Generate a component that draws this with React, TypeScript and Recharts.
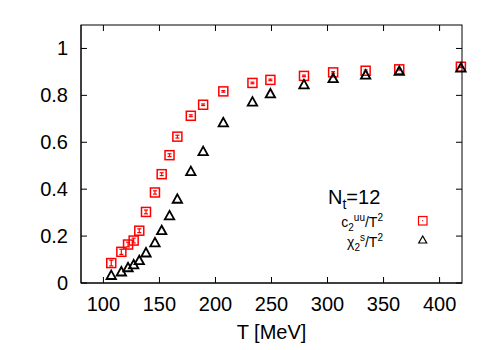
import { ScatterChart, Scatter, XAxis, YAxis } from "recharts";

// temperatures in MeV (shared by both series)
const temps = [107, 116, 122, 127, 132, 138, 146, 152, 159, 166, 178, 189, 207, 233, 249, 279, 305, 334, 364, 419];
const c2uu = [0.085, 0.133, 0.164, 0.181, 0.223, 0.303, 0.386, 0.464, 0.545, 0.624, 0.713, 0.76, 0.817, 0.853, 0.866, 0.883, 0.898, 0.905, 0.911, 0.922];
const c2uuErr = [0.012, 0.011, 0.01, 0.01, 0.008, 0.008, 0.007, 0.006, 0.006, 0.006, 0.004, 0.003, 0.003, 0.002, 0.002, 0.002, 0.002, 0.002, 0.002, 0.002];
const chi2s = [0.032, 0.047, 0.065, 0.077, 0.095, 0.128, 0.171, 0.223, 0.286, 0.357, 0.475, 0.56, 0.683, 0.771, 0.806, 0.845, 0.871, 0.886, 0.902, 0.916];
const xTicks = [100, 150, 200, 250, 300, 350, 400];
const yTicks = [0, 0.2, 0.4, 0.6, 0.8, 1];

const X_MIN = 80;
const X_MAX = 420;
const Y_MAX = 1.1;

// layout
const W = 500;
const H = 350;
const M_TOP = 25;
const M_RIGHT = 38;
const X_AXIS_H = 67;
const Y_AXIS_W = 81;
const PLOT_L = Y_AXIS_W;
const PLOT_R = W - M_RIGHT;
const PLOT_T = M_TOP;
const PLOT_B = H - X_AXIS_H;
const PX_PER_Y = (PLOT_B - PLOT_T) / Y_MAX;
const px = (t: number) => PLOT_L + ((t - X_MIN) / (X_MAX - X_MIN)) * (PLOT_R - PLOT_L);
const py = (v: number) => PLOT_B - v * PX_PER_Y;

const FONT = "'Liberation Sans', Arial, Helvetica, sans-serif";
const RED = "#ff0000";

const uuData = temps.map((t, i) => ({ T: t, v: c2uu[i], err: c2uuErr[i] }));
const sData = temps.map((t, i) => ({ T: t, v: chi2s[i] }));

const fmtY = (v: number) => (v === 0 || v === 1 ? String(v) : v.toFixed(1));

const BottomTick = (props: any) => {
  const { x, y, payload } = props;
  return (
    <g>
      <line x1={x} x2={x} y1={y} y2={y - 6} stroke="#000" />
      <text x={x} y={y + 28} textAnchor="middle" fontSize={20} fontFamily={FONT} fill="#000">
        {payload.value}
      </text>
    </g>
  );
};

const LeftTick = (props: any) => {
  const { x, y, payload } = props;
  return (
    <g>
      <line x1={x} x2={x + 6} y1={y} y2={y} stroke="#000" />
      <text x={x - 13} y={y + 7} textAnchor="end" fontSize={20} fontFamily={FONT} fill="#000">
        {fmtY(payload.value)}
      </text>
    </g>
  );
};

const Square = (props: any) => {
  const { cx, cy, payload } = props;
  const e = Math.max(payload.err * PX_PER_Y, 0.8);
  return (
    <g stroke={RED}>
      <rect x={cx - 4.5} y={cy - 4.5} width={9} height={9} fill="none" strokeWidth={1.5} />
      <line x1={cx} x2={cx} y1={cy - e} y2={cy + e} strokeWidth={1.2} />
      <line x1={cx - 2} x2={cx + 2} y1={cy - e} y2={cy - e} strokeWidth={1.2} />
      <line x1={cx - 2} x2={cx + 2} y1={cy + e} y2={cy + e} strokeWidth={1.2} />
    </g>
  );
};

const Triangle = (props: any) => {
  const { cx, cy } = props;
  return (
    <polygon
      points={`${cx},${cy - 5} ${cx - 4.7},${cy + 3.5} ${cx + 4.7},${cy + 3.5}`}
      fill="none"
      stroke="#000"
      strokeWidth={1.8}
    />
  );
};

// mirrored ticks on the top and right edges as one path
const mirrorPath =
  xTicks.map((t) => `M${px(t)},${PLOT_T} V${PLOT_T + 6}`).join(" ") +
  " " +
  yTicks.map((v) => `M${PLOT_R},${py(v)} H${PLOT_R - 6}`).join(" ");

// frame (top/right edges), mirrored ticks, plus the key
const Overlay = () => (
  <svg width={W} height={H} style={{ position: "absolute", left: 0, top: 0, pointerEvents: "none" }}>
    <rect
      x={PLOT_L}
      y={PLOT_T}
      width={PLOT_R - PLOT_L}
      height={PLOT_B - PLOT_T}
      fill="none"
      stroke="#000000"
      strokeWidth={1}
    />
    <path d={mirrorPath} fill="none" stroke="#000000" strokeWidth={1} />
    <g fontFamily={FONT} fill="#000">
      <text x={328} y={204} fontSize={20}>
        N<tspan fontSize={14} dy={5}>t</tspan>
        <tspan dy={-5}>=12</tspan>
      </text>
      <text x={383} y={227} fontSize={14} textAnchor="end">
        c<tspan fontSize={10} dy={4}>2</tspan>
        <tspan fontSize={10} dy={-10}>uu</tspan>
        <tspan dy={6}>/T</tspan>
        <tspan fontSize={10} dy={-6}>2</tspan>
      </text>
      <text x={383} y={247} fontSize={14} textAnchor="end">
        χ<tspan fontSize={10} dy={4}>2</tspan>
        <tspan fontSize={10} dy={-10}>s</tspan>
        <tspan dy={6}>/T</tspan>
        <tspan fontSize={10} dy={-6}>2</tspan>
      </text>
    </g>
    <rect x={418.5} y={216.5} width={8.5} height={8.5} fill="none" stroke={RED} strokeWidth={1.2} />
    <circle cx={422.7} cy={220.7} r={0.6} fill={RED} />
    <polygon points="422.7,236 418.7,243 426.7,243" fill="none" stroke="#000" strokeWidth={1.2} />
  </svg>
);

export default function App() {
  return (
    <div style={{ position: "absolute", left: 0, top: 0, width: W, height: H, background: "#fff" }}>
      <ScatterChart width={W} height={H} margin={{ top: M_TOP, right: M_RIGHT, bottom: 0, left: 0 }}>
        <XAxis
          dataKey="T"
          type="number"
          domain={[X_MIN, X_MAX]}
          ticks={xTicks}
          interval={0}
          height={X_AXIS_H}
          tickSize={0}
          tickMargin={0}
          tick={<BottomTick />}
          axisLine={{ stroke: "#000" }}
          tickLine={false}
          label={{ value: "T [MeV]", position: "insideBottom", offset: 11, fontSize: 20, fontFamily: FONT, fill: "#000" }}
        />
        <YAxis
          dataKey="v"
          type="number"
          domain={[0, Y_MAX]}
          ticks={yTicks}
          interval={0}
          width={Y_AXIS_W}
          tickSize={0}
          tickMargin={0}
          tick={<LeftTick />}
          axisLine={{ stroke: "#000" }}
          tickLine={false}
        />
        <Scatter data={uuData} shape={<Square />} isAnimationActive={false} />
        <Scatter data={sData} shape={<Triangle />} isAnimationActive={false} />
      </ScatterChart>
      <Overlay />
    </div>
  );
}
